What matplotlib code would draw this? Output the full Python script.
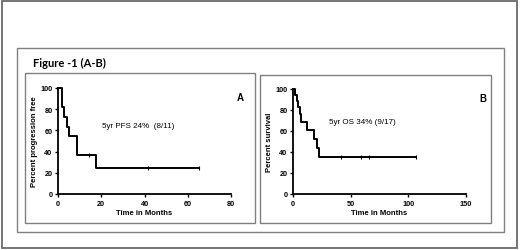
import matplotlib
matplotlib.use("Agg")
import matplotlib.pyplot as plt
from matplotlib.patches import Rectangle

# Panel A - progression free survival
pfs_t = [0, 2.0, 2.6, 4.3, 5.0, 8.8, 17.8, 65]
pfs_s = [100, 81.8, 72.7, 63.6, 54.5, 36.4, 24.2, 24.2]
pfs_cens_t = [14.4, 41.5, 65]
pfs_cens_s = [36.4, 24.2, 24.2]

# Panel B - overall survival
os_t = [0, 1.4, 3.8, 4.6, 5.8, 7.0, 12.2, 18.2, 21.1, 22.3, 106.6]
os_s = [100, 94.1, 88.2, 82.4, 76.5, 68.4, 60.6, 52.4, 43.7, 34.9, 34.9]
os_cens_t = [41.4, 58.8, 66, 106.6]
os_cens_s = [34.9, 34.9, 34.9, 34.9]

yticks = [0, 20, 40, 60, 80, 100]
pfs_xticks = [0, 20, 40, 60, 80]
os_xticks = [0, 50, 100, 150]

W, H = 520, 251
fig = plt.figure(figsize=(W / 100, H / 100), dpi=100)

# pixel box -> figure fraction
def box(x0, y0, x1, y1):
    return [x0 / W, 1 - y1 / H, (x1 - x0) / W, (y1 - y0) / H]

def frame(x0, y0, x1, y1, color, lw):
    fig.add_artist(Rectangle((x0 / W, 1 - y1 / H), (x1 - x0) / W, (y1 - y0) / H,
                             transform=fig.transFigure, fill=False,
                             edgecolor=color, linewidth=lw))

frame(2, 2, 517, 249, "#6a6a6a", 1.3)
frame(17, 49, 504, 233, "#808080", 1.0)
frame(25, 74, 255, 224, "#808080", 1.0)
frame(260, 76, 491, 224, "#808080", 1.0)

fig.text(33 / W, 1 - 63 / H, "Figure -1 (A-B)", fontsize=8, fontweight="bold",
         family="Lato", va="center", ha="left")

tick_font = dict(family="Liberation Sans", fontweight="bold", fontsize=5.2)

def km_panel(rect, t, s, ct, cs, xticks, ylabel, note, note_xy, letter, letter_xy):
    ax = fig.add_axes(rect)
    ax.step(t, s, where="post", color="black", lw=1.4, clip_on=False)
    ax.plot(ct, cs, "|", color="black", ms=2.5, mew=0.8, clip_on=False)
    ax.set_xlim(xticks[0], xticks[-1])
    ax.set_ylim(0, 100)
    ax.set_xticks(xticks)
    ax.set_yticks(yticks)
    for sp in ["top", "right"]:
        ax.spines[sp].set_visible(False)
    for sp in ["left", "bottom"]:
        ax.spines[sp].set_linewidth(1.3)
    ax.tick_params(length=2.5, width=1.0, pad=1.5)
    ax.set_xticklabels([str(v) for v in xticks], **tick_font)
    ax.set_yticklabels([str(v) for v in yticks], **tick_font)
    ax.set_xlabel("Time in Months", labelpad=1.5, **dict(tick_font, fontsize=5.5))
    ax.set_ylabel(ylabel, labelpad=2, **dict(tick_font, fontsize=5.5))
    ax.patch.set_alpha(0)
    fig.text(note_xy[0] / W, 1 - note_xy[1] / H, note, ha="center", va="center",
             family="Liberation Sans", fontsize=5.8)
    fig.text(letter_xy[0] / W, 1 - letter_xy[1] / H, letter, ha="center", va="center",
             family="Liberation Sans", fontweight="bold", fontsize=7)
    return ax

km_panel(box(58, 89, 231, 195), pfs_t, pfs_s, pfs_cens_t, pfs_cens_s, pfs_xticks,
         "Percent progression free", "5yr PFS 24%  (8/11)", (138, 127), "A", (240, 98))
km_panel(box(293, 90, 466, 195), os_t, os_s, os_cens_t, os_cens_s, os_xticks,
         "Percent survival", "5yr OS 34% (9/17)", (362, 123), "B", (483, 99))

fig.savefig("out.png", dpi=100)
